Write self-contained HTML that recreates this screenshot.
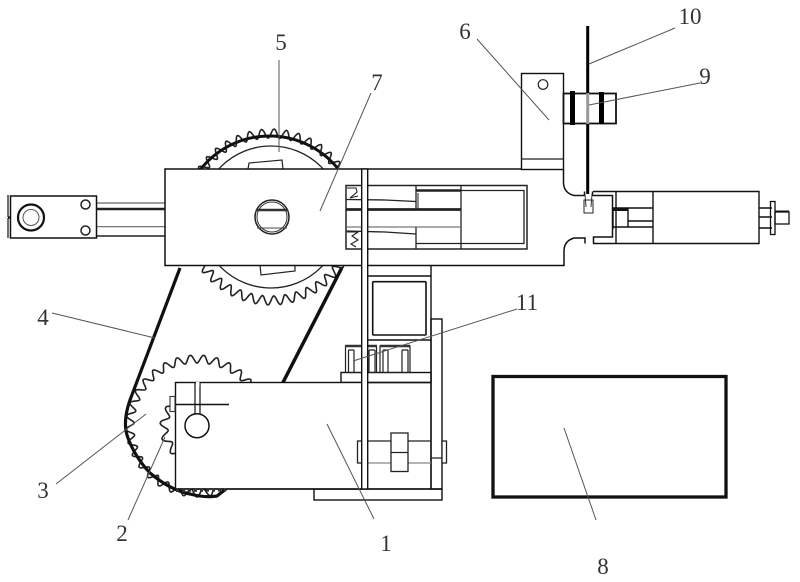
<!DOCTYPE html>
<html>
<head>
<meta charset="utf-8">
<style>
html,body{margin:0;padding:0;background:#fff}
svg{display:block}
text{font-family:"Liberation Serif",serif;font-size:23px;fill:#333;text-anchor:middle}
</style>
</head>
<body>
<svg id="s" width="800" height="582" viewBox="0 0 800 582" xmlns="http://www.w3.org/2000/svg">
<rect width="800" height="582" fill="#fff"/>

<!-- large gear -->
<path id="g1" fill="#fff" stroke="#222" stroke-width="1.600"/>
<circle cx="271" cy="217" r="71" fill="#fff" stroke="#222" stroke-width="1.300"/>
<path d="M248 169L249 163L282 160L283 169M260 265L261 275L295 271L295 265" fill="#fff" stroke="#222" stroke-width="1.200"/>
<!-- belt top -->
<path d="M200 170A88 88 0 0 1 339 170" fill="none" stroke="#111" stroke-width="3"/>

<!-- left rod -->
<g fill="none" stroke="#222" stroke-width="1.200">
<path d="M96 203H165M96 226.700H165" stroke="#666"/>
<path d="M96 209H165" stroke-width="2.400"/>
<path d="M96 236H165" stroke-width="1.500"/>
</g>
<!-- clevis -->
<rect x="10.500" y="196" width="86" height="42" fill="#fff" stroke="#111" stroke-width="1.500"/>
<path d="M8 195V217M8 218V238M8 217H11M8 218H11" stroke="#111" stroke-width="1.200" fill="none"/>
<circle cx="31" cy="217.500" r="13" fill="#fff" stroke="#111" stroke-width="2.200"/>
<circle cx="31" cy="217.500" r="8" fill="none" stroke="#555" stroke-width="1"/>
<circle cx="85.500" cy="204.500" r="4.500" fill="#fff" stroke="#222" stroke-width="1.500"/>
<circle cx="85.500" cy="230.500" r="4.500" fill="#fff" stroke="#222" stroke-width="1.500"/>

<!-- lower gears -->
<path id="g2" fill="#fff" stroke="#222" stroke-width="1.600"/>
<path id="g3" fill="#fff" stroke="#222" stroke-width="1.600"/>

<!-- belt sides -->
<path d="M180 268L130 400Q122 423 128 438Q135 457 150 473Q170 490 190 494Q205 498 217 496L226 489" fill="none" stroke="#111" stroke-width="3.200"/>
<path d="M341.700 268L282.700 383" fill="none" stroke="#111" stroke-width="3.500"/>

<!-- main block -->
<path d="M165 169H563.500V183Q564 193 574 195.500H612.500V237H574Q564 241 564 251V265.500H165Z" fill="#fff"/>
<path d="M563.500 169H165V265.500H564V251Q564 241 574 238H585V243.500M593.500 243.500V237H612.500V195.500H592.500V191.500M584.500 191.500V195.500H574Q564 193 563.500 183V169" fill="none" stroke="#111" stroke-width="1.500"/>

<!-- shaft -->
<circle cx="272" cy="217" r="17" fill="#fff" stroke="#222" stroke-width="1.500"/>
<circle cx="272" cy="217" r="15" fill="none" stroke="#333" stroke-width="1"/>
<path d="M256 210H288" stroke="#333" stroke-width="2.500"/>
<path d="M257 228H287" stroke="#444" stroke-width="1"/>

<!-- bracket 6 -->
<rect x="521.500" y="73.500" width="42" height="96" fill="#fff" stroke="#111" stroke-width="1.400"/>
<path d="M521.500 159H563.500" stroke="#222" stroke-width="1.200"/>
<circle cx="543" cy="84.500" r="4.800" fill="#fff" stroke="#222" stroke-width="1.200"/>

<!-- piston interior -->
<g fill="none" stroke="#222" stroke-width="1.300">
<rect x="346" y="185.500" width="181" height="63.500" stroke-width="1.500"/>
<path d="M416 185.500V209M416 227V249M461 185.500V249"/>
<path d="M416 190.500H461" stroke-width="2.400"/>
<path d="M461 190.500H524V243.500H416"/>
<path d="M346 199.500L385 200L416 201.500"/>
<path d="M346 209.500H461" stroke-width="2.800"/>
<path d="M346 231L385 232L416 234"/>
<path d="M416 227H461" stroke="#777"/>
<path d="M346 227H416" stroke="#555" stroke-width="0.900"/>
<path d="M347 188H356L357 192L350 198L358 196" stroke-width="1.100"/>
<path d="M347 232H358L352 236L358 240L351 244L356 247" stroke-width="1.100"/>
<path d="M418 193V209M416 228V243" stroke-width="1"/>
</g>

<!-- right cylinder -->
<g fill="none" stroke="#111" stroke-width="1.400">
<path d="M593 191.500H759V243.500H593"/>
<path d="M616 191.500V243.500M653 191.500V243.500"/>
<path d="M613 208H653M628 221H653M613 227H653"/>
<path d="M628 208V227"/>
<path d="M613 209.500H628" stroke-width="3"/>
<path d="M613 208V229"/>
<path d="M759 208H772M759 217H772M759 228H772"/>
<rect x="770.500" y="201.500" width="4.500" height="33" stroke-width="1.300"/>
<rect x="775" y="212" width="14" height="12" stroke-width="1.300"/>
<path d="M775 211.500H789" stroke-width="2"/>
</g>

<!-- collar 9 -->
<rect x="563.500" y="93.500" width="52.500" height="30" fill="#fff" stroke="#111" stroke-width="1.800"/>
<path d="M572.500 91V125M601.500 92V124" stroke="#000" stroke-width="5" fill="none"/>
<!-- rod 10 -->
<path d="M587.700 26V93M587.700 124V194" stroke="#000" stroke-width="3" fill="none"/>
<path d="M587.700 93V124" stroke="#999" stroke-width="3" fill="none"/>
<rect x="584" y="200" width="9" height="13" fill="#fff" stroke="#222" stroke-width="1"/>
<path d="M585 194L586 207M592 194L591 207" stroke="#333" stroke-width="1" fill="none"/>

<!-- lower frame -->
<g stroke="#111" stroke-width="1.400" fill="#fff">
<rect x="314" y="489" width="128" height="11"/>
<rect x="431" y="319" width="11" height="170"/>
<rect x="341" y="372.500" width="90" height="10"/>
<path d="M431 265.500V489" fill="none"/>
<path d="M368 276H431M368 340H431" fill="none"/>
<rect x="372.700" y="281.700" width="53.300" height="53.300" rx="1" stroke-width="1.600"/>
</g>
<g fill="none" stroke="#222" stroke-width="1.200">
<rect x="345.500" y="346" width="31" height="26.500"/>
<rect x="380" y="346" width="30" height="26.500"/>
<path d="M345 346H377M380 346H410" stroke-width="2.500" stroke="#333"/>
<path d="M348.500 350V372M354 350V372M369 350V372M375 350V372M383 350V372M388 350V372M402 350V372M408 350V372M348.500 350H354M369 350H375M383 350H388M402 350H408"/>
</g>

<!-- body 1 -->
<rect x="175.500" y="382.500" width="186.500" height="106.500" fill="#fff" stroke="#111" stroke-width="1.400"/>
<path d="M362 382.500H431" stroke="#111" stroke-width="1.400"/>
<path d="M175.500 489H442" stroke="#111" stroke-width="1.400"/>
<path d="M195 382.500V414M200 382.500V414" stroke="#222" stroke-width="1.300"/>
<rect x="196" y="382" width="3.500" height="5" fill="#fff"/>
<circle cx="197" cy="425.700" r="12" fill="#fff" stroke="#111" stroke-width="1.500"/>
<path d="M175.500 404.500H229" stroke="#111" stroke-width="1.500"/>
<rect x="170" y="396.500" width="5" height="15" fill="#fff" stroke="#333" stroke-width="1.100"/>
<!-- teeth under body bottom -->
<path d="M176 490.500L226 490" stroke="#333" stroke-width="3" stroke-dasharray="3 3" fill="none"/>

<!-- pivot -->
<g fill="none" stroke="#222" stroke-width="1.300">
<path d="M368 441H391M408 441H431"/>
<path d="M368 463H391M408 463H431" stroke="#888"/>
<path d="M362 458H368M431 458H442"/>
<rect x="357.500" y="441" width="4.500" height="22" fill="#fff"/>
<rect x="442" y="441" width="4.500" height="22" fill="#fff"/>
<rect x="391" y="433" width="17" height="38.500" fill="#fff"/>
<path d="M391 452.500H408"/>
</g>

<!-- vertical plate -->
<rect x="361.700" y="169" width="6" height="320" fill="#fff" stroke="#111" stroke-width="1.400"/>

<!-- box 8 -->
<rect x="493" y="376.500" width="233" height="120.500" fill="#fff" stroke="#111" stroke-width="3.300"/>

<!-- leaders -->
<g stroke="#555" stroke-width="1" fill="none">
<path d="M279 60V152"/>
<path d="M371 93L320 211"/>
<path d="M477 39L549 120"/>
<path d="M675 28L589 64"/>
<path d="M700 83L589 105"/>
<path d="M517 309L353 361"/>
<path d="M52 313L155 338"/>
<path d="M56 484L146 414"/>
<path d="M128 520L165 437"/>
<path d="M374 519L327 424"/>
<path d="M596 520L564 428"/>
</g>

<!-- labels -->
<text x="281" y="50">5</text>
<text x="377" y="90">7</text>
<text x="465" y="39">6</text>
<text x="690" y="24">10</text>
<text x="705" y="84">9</text>
<text x="527" y="310">11</text>
<text x="43" y="325">4</text>
<text x="43" y="498">3</text>
<text x="122" y="541">2</text>
<text x="386" y="551">1</text>
<text x="603" y="574">8</text>
</svg>
<script>
function gear(id,cx,cy,ro,ri,n){
  var d="",m=n*16;
  for(var i=0;i<=m;i++){
    var a=2*Math.PI*i/m,
        r=(ro+ri)/2+(ro-ri)/2*Math.sin(n*a);
    d+=(i?"L":"M")+(cx+r*Math.cos(a)).toFixed(1)+" "+(cy+r*Math.sin(a)).toFixed(1);
  }
  document.getElementById(id).setAttribute("d",d+"Z");
}
gear("g1",271,217,88,79,44);
gear("g2",197,426,71,63,33);
gear("g3",197,427,37,29,14);
</script>
</body>
</html>
